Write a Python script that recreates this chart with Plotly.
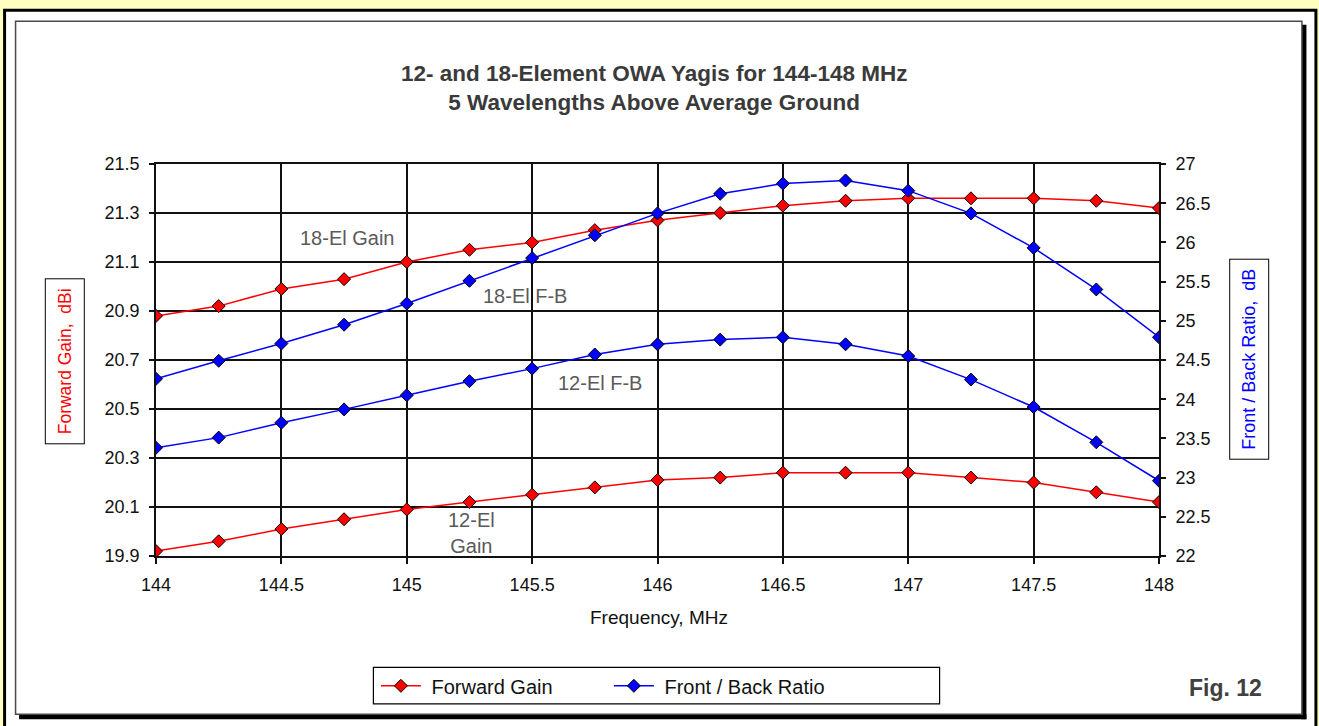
import plotly.graph_objects as go

# Frequency sweep, MHz
freq = [144.0, 144.25, 144.5, 144.75, 145.0, 145.25, 145.5, 145.75, 146.0,
        146.25, 146.5, 146.75, 147.0, 147.25, 147.5, 147.75, 148.0]

# Forward gain, dBi (left axis)
gain_18 = [20.88, 20.92, 20.99, 21.03, 21.10, 21.15, 21.18, 21.23, 21.27,
           21.30, 21.33, 21.35, 21.36, 21.36, 21.36, 21.35, 21.32]
gain_12 = [19.92, 19.96, 20.01, 20.05, 20.09, 20.12, 20.15, 20.18, 20.21,
           20.22, 20.24, 20.24, 20.24, 20.22, 20.20, 20.16, 20.12]

# Front-to-back ratio, dB (right axis)
fb_18 = [24.26, 24.49, 24.71, 24.95, 25.22, 25.51, 25.80, 26.09, 26.37,
         26.62, 26.75, 26.79, 26.66, 26.37, 25.93, 25.40, 24.79]
fb_12 = [23.38, 23.51, 23.70, 23.87, 24.05, 24.23, 24.39, 24.57, 24.70,
         24.76, 24.79, 24.70, 24.55, 24.25, 23.90, 23.45, 22.96]

W, H = 1319, 726
L, R, T, B = 156, 1159.5, 163.5, 556  # plot area in pixels

def px(x):
    return (x - L) / (R - L)

def py(y):
    return (B - y) / (B - T)

FONT = "Liberation Sans, Arial, sans-serif"
RED = "#FF0000"
BLUE = "#0000FF"

def series(x, y, color, name, axis, show):
    return go.Scatter(
        x=x, y=y, yaxis=axis, name=name, legendgroup=name, showlegend=show,
        mode="lines+markers",
        line=dict(color=color, width=1.5),
        marker=dict(symbol="diamond", size=10, color=color,
                    line=dict(color="black", width=1)),
    )

fig = go.Figure()
fig.add_trace(series(freq, gain_18, RED, "\u00a0Forward Gain", "y", True))
fig.add_trace(series(freq, gain_12, RED, "\u00a0Forward Gain", "y", False))
fig.add_trace(series(freq, fb_18, BLUE, "\u00a0Front / Back Ratio", "y2", True))
fig.add_trace(series(freq, fb_12, BLUE, "\u00a0Front / Back Ratio", "y2", False))

shapes = [
    # outer black frame on white
    dict(type="rect", xref="paper", yref="paper", layer="below",
         x0=px(4.5), x1=px(1316.5), y0=py(760), y1=py(9.5),
         line=dict(color="black", width=3), fillcolor="white"),
    # drop shadow of the chart area
    dict(type="rect", xref="paper", yref="paper", layer="below",
         x0=px(1302), x1=px(1307), y0=py(719.5), y1=py(24),
         line=dict(width=0), fillcolor="black"),
    dict(type="rect", xref="paper", yref="paper", layer="below",
         x0=px(19), x1=px(1307), y0=py(719.5), y1=py(714.5),
         line=dict(width=0), fillcolor="black"),
    # chart area border
    dict(type="rect", xref="paper", yref="paper", layer="below",
         x0=px(15.5), x1=px(1302.5), y0=py(714.5), y1=py(20.5),
         line=dict(color="#4a4a4a", width=1.5), fillcolor="white"),
    # legend box
    dict(type="rect", xref="paper", yref="paper",
         x0=px(373.5), x1=px(940), y0=py(704), y1=py(667.5),
         line=dict(color="black", width=1.2), fillcolor="rgba(0,0,0,0)"),
]

label_color = "#5a5a5a"

def note(text, x, y, size, color, ref="paper", **kw):
    return dict(text=text, x=x, y=y, xref=ref, yref=ref if ref == "paper" else "y",
                showarrow=False, xanchor="center", yanchor="middle",
                font=dict(family=FONT, size=size, color=color,
                          weight=kw.pop("weight", "normal")), **kw)

annotations = [
    note("12- and 18-Element OWA Yagis for 144-148 MHz<br>5 Wavelengths Above Average Ground",
         px(654), py(87), 22.5, "#3a3a3a", weight="bold"),
    note("Forward Gain,  dBi", px(65), py(361), 17.5, RED, textangle=-90,
         bordercolor="black", borderwidth=1, borderpad=9, bgcolor="white"),
    note("Front / Back Ratio,  dB", px(1250), py(359), 18, BLUE, textangle=-90,
         bordercolor="black", borderwidth=1, borderpad=9, bgcolor="white"),
    note("Frequency, MHz", px(659), py(618), 19, "#111"),
    note("Fig. 12", px(1226), py(688), 23, "#404040", weight="bold"),
    note("18-El Gain", 144.765, 21.196, 20, label_color, ref="x"),
    note("18-El F-B", 145.47, 20.96, 20, label_color, ref="x"),
    note("12-El F-B", 145.77, 20.605, 20, label_color, ref="x"),
    note("12-El<br>Gain", 145.26, 19.995, 20, label_color, ref="x"),
]

tickfont = dict(family=FONT, size=18, color="#111")

fig.update_layout(
    width=W, height=H,
    margin=dict(l=L, r=W - R, t=T, b=H - B, pad=0),
    paper_bgcolor="#FFFFC0",
    plot_bgcolor="white",
    showlegend=True,
    legend=dict(orientation="h", x=px(376), y=py(686), xanchor="left",
                yanchor="middle", entrywidth=178, entrywidthmode="pixels",
                font=dict(family=FONT, size=20, color="#111"),
                bgcolor="rgba(0,0,0,0)", borderwidth=0, itemwidth=40),
    xaxis=dict(range=[144, 148], dtick=0.5, tick0=144,
               showgrid=True, gridcolor="#111", gridwidth=1.6,
               showline=True, linecolor="#111", linewidth=1.6, mirror=True,
               ticks="outside", ticklen=6, tickcolor="#111", tickwidth=1.5,
               tickfont=tickfont, zeroline=False, ticklabelstandoff=6),
    yaxis=dict(range=[19.9, 21.5], dtick=0.2, tick0=19.9, tickformat=".1f",
               showgrid=True, gridcolor="#111", gridwidth=1.6,
               showline=True, linecolor="#111", linewidth=1.6,
               ticks="outside", ticklen=5, tickcolor="#111", tickwidth=1.5,
               tickfont=tickfont, zeroline=False, ticklabelstandoff=6),
    yaxis2=dict(range=[22, 27], dtick=0.5, tick0=22, overlaying="y",
                side="right", showgrid=False,
                showline=True, linecolor="#111", linewidth=1.6,
                ticks="outside", ticklen=5, tickcolor="#111", tickwidth=1.5,
                tickfont=tickfont, zeroline=False, ticklabelstandoff=6),
    shapes=shapes,
    annotations=annotations,
)

fig.write_html("out.html")
